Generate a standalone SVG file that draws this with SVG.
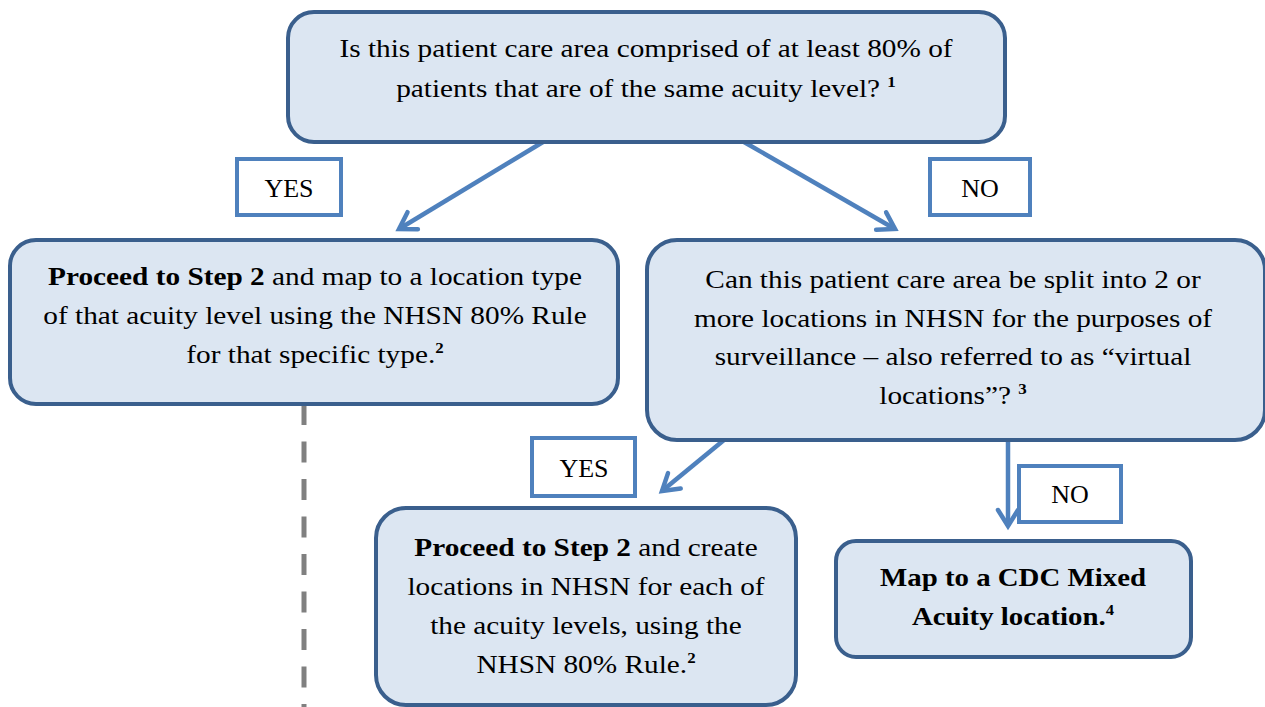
<svg xmlns="http://www.w3.org/2000/svg" width="1265" height="707" viewBox="0 0 1265 707">
<style>
.box{fill:#dce6f2;stroke:#3a5f8d;stroke-width:4}
.lbl{fill:#ffffff;stroke:#4f81bd;stroke-width:4}
text{font-family:'Liberation Serif','Times New Roman','DejaVu Serif',serif;font-size:26px;fill:#000;text-anchor:middle}
.b{font-weight:bold}
.sup{font-weight:bold;font-size:15px}
.arr{stroke:#4f81bd;stroke-width:4.5;fill:none}
</style>
<defs>
<marker id="ah" markerUnits="userSpaceOnUse" markerWidth="30" markerHeight="30" viewBox="-20 -15 30 30" refX="0" refY="0" orient="auto">
<path d="M-16,-10 L0,0 L-16,10" fill="none" stroke="#4f81bd" stroke-width="4.5" stroke-linecap="round" stroke-linejoin="miter"/>
</marker>
</defs>
<g id="connectors">
<line class="arr" x1="543" y1="142" x2="399" y2="229" marker-end="url(#ah)"/>
<line class="arr" x1="744" y1="142" x2="895" y2="229" marker-end="url(#ah)"/>
<line class="arr" x1="724" y1="440" x2="662" y2="491" marker-end="url(#ah)"/>
<line class="arr" x1="1008" y1="440" x2="1008" y2="526" marker-end="url(#ah)"/>
<line x1="304" y1="404" x2="304" y2="707" stroke="#808080" stroke-width="5" stroke-dasharray="21 16.5"/>
</g>
<g id="q1">
<rect class="box" x="288" y="12" width="717" height="130" rx="26"/>
<g transform="translate(646 0) scale(1.127 1)">
<text x="0" y="57">Is this patient care area comprised of at least 80% of</text>
<text x="0" y="97">patients that are of the same acuity level? <tspan class="sup" dy="-10">1</tspan></text>
</g>
</g>
<g id="yes1">
<rect class="lbl" x="237" y="159" width="104" height="56"/>
<text x="289" y="197">YES</text>
</g>
<g id="no1">
<rect class="lbl" x="930" y="159" width="100" height="56"/>
<text x="980" y="197">NO</text>
</g>
<g id="step2a">
<rect class="box" x="10" y="240" width="608" height="164" rx="26"/>
<g transform="translate(315 0) scale(1.127 1)">
<text x="0" y="285"><tspan class="b">Proceed to Step 2</tspan> and map to a location type</text>
<text x="0" y="324">of that acuity level using the NHSN 80% Rule</text>
<text x="0" y="363">for that specific type.<tspan class="sup" dy="-10">2</tspan></text>
</g>
</g>
<g id="q2">
<rect class="box" x="647" y="240" width="618" height="200" rx="30"/>
<g transform="translate(953 0) scale(1.127 1)">
<text x="0" y="288">Can this patient care area be split into 2 or</text>
<text x="0" y="327">more locations in NHSN for the purposes of</text>
<text x="0" y="365">surveillance – also referred to as “virtual</text>
<text x="0" y="404">locations”? <tspan class="sup" dy="-10">3</tspan></text>
</g>
</g>
<g id="yes2">
<rect class="lbl" x="532" y="438" width="103" height="58"/>
<text x="584" y="477">YES</text>
</g>
<g id="no2">
<rect class="lbl" x="1019" y="466" width="102" height="56"/>
<text x="1070" y="503">NO</text>
</g>
<g id="step2b">
<rect class="box" x="376" y="508" width="420" height="197" rx="30"/>
<g transform="translate(586 0) scale(1.127 1)">
<text x="0" y="556"><tspan class="b">Proceed to Step 2</tspan> and create</text>
<text x="0" y="595">locations in NHSN for each of</text>
<text x="0" y="634">the acuity levels, using the</text>
<text x="0" y="673">NHSN 80% Rule.<tspan class="sup" dy="-10">2</tspan></text>
</g>
</g>
<g id="mixed">
<rect class="box" x="836" y="541" width="355" height="116" rx="20"/>
<g transform="translate(1013 0) scale(1.11 1)">
<text class="b" x="0" y="586">Map to a CDC Mixed</text>
<text class="b" x="0" y="625">Acuity location.<tspan class="sup" dy="-10">4</tspan></text>
</g>
</g>
</svg>
